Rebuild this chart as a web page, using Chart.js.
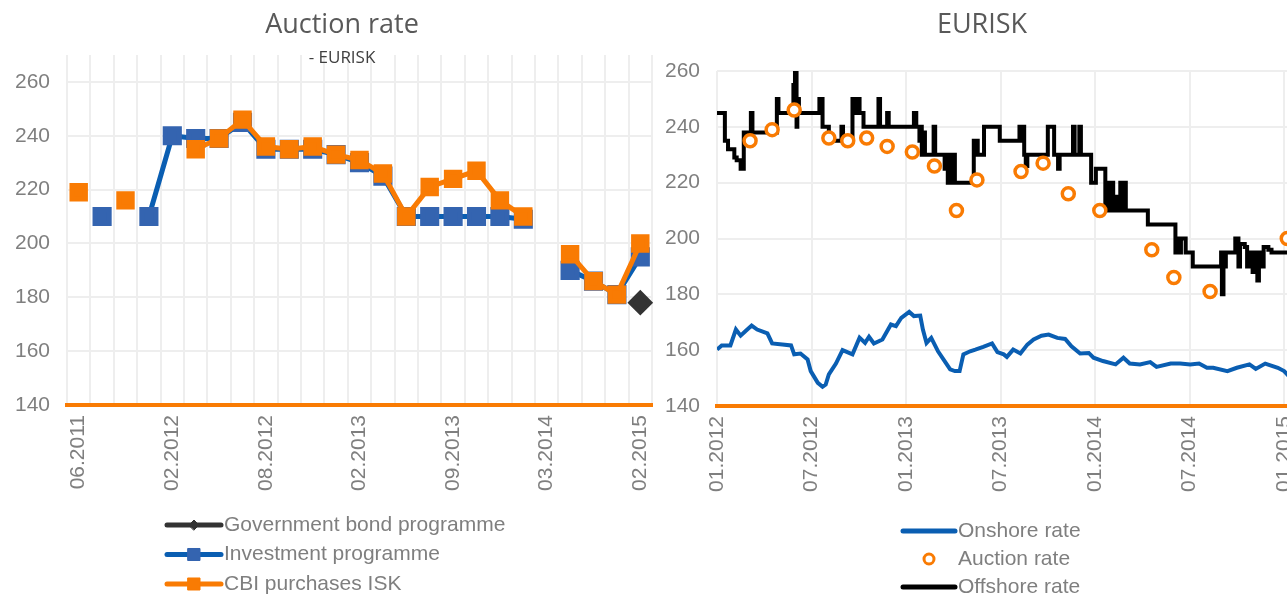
<!DOCTYPE html>
<html>
<head>
<meta charset="utf-8">
<script src="https://cdn.jsdelivr.net/npm/chart.js@4.4.1/dist/chart.umd.min.js"></script>
<style>
    html, body { margin: 0; padding: 0; background: #fff; overflow: hidden; width: 1287px; height: 594px; }
    #left { position: absolute; left: 0; top: 0; width: 660px; height: 594px; }
    #right { position: absolute; left: 655px; top: 0; width: 649px; height: 594px; }
</style>
</head>
<body>
<div id="left"><canvas id="auctionChart"></canvas></div>
<div id="right"><canvas id="eurChart"></canvas></div>
<script>
// ========== DATA ==========
// Left panel: one category per auction
const auctionDates = [
    '06.2011', '09.2011', '11.2011', '12.2011', '02.2012', '03.2012', '04.2012', '06.2012',
    '08.2012', '09.2012', '10.2012', '11.2012', '02.2013', '03.2013', '05.2013', '06.2013',
    '09.2013', '10.2013', '11.2013', '01.2014', '03.2014', '04.2014', '06.2014', '09.2014', '02.2015'
];
const govBond = [null, null, null, null, null, null, null, null, null, null, null, null,
    null, null, null, null, null, null, null, null, null, null, null, null, 178];
const investment = [null, 210, null, 210, 240, 239, 239, 245, 235, 235, 235, 233,
    230, 225, 210, 210, 210, 210, 210, 209, null, 190, 186, 181, 195];
const cbiPurchases = [219, null, 216, null, null, 235, 239, 246, 236, 235, 236, 233,
    231, 226, 210, 221, 224, 227, 216, 210, null, 196, 186, 181, 200];
const leftTicks = [140, 160, 180, 200, 220, 240, 260];

// Right panel: x = months since 01.2012
const onshoreMonths = [0, 0.3, 0.85, 1.2, 1.5, 1.8, 2.2, 2.55, 3.2, 3.5, 4.15, 4.7, 4.9, 5.3, 5.75, 5.95,
    6.4, 6.7, 6.9, 7.1, 7.55, 7.97, 8.6, 9.05, 9.4, 9.65, 9.96, 10.5, 11.04, 11.36, 11.7, 12.2,
    12.5, 12.9, 13.07, 13.3, 13.6, 14.03, 14.46, 14.8, 15.1, 15.4, 15.64, 16.07, 16.4, 16.9, 17.46,
    17.8, 18.2, 18.4, 18.8, 19.26, 19.7, 20.1, 20.6, 21.05, 21.6, 22.1, 22.5, 23.05, 23.6, 23.9,
    24.5, 25.3, 25.8, 26.2, 26.85, 27.5, 27.9, 28.8, 29.4, 30.04, 30.6, 31.1, 31.5, 32.4, 33,
    33.8, 34.2, 34.8, 35.6, 36, 36.3];
const onshoreRate = [160.2, 161.7, 161.7, 167.4, 165.2, 166.8, 168.8, 167.4, 166, 162.4, 162, 161.7, 158.5, 158.8, 156.7, 152.5,
    148.3, 146.9, 147.7, 151.3, 155.2, 160, 158.5, 164.5, 162.6, 164.8, 162.4, 163.8, 169.2, 168.6, 171.6, 173.7,
    172.2, 172.4, 167.4, 162.6, 164.4, 159.6, 156, 153.1, 152.5, 152.5, 158.5, 159.6, 160.2, 161.2, 162.4,
    159.3, 158.5, 157.6, 160.2, 158.8, 162, 163.8, 165.2, 165.6, 164.4, 164, 161.4, 158.8, 159, 157.3,
    156.1, 154.9, 157.3, 155.2, 154.9, 155.7, 154, 155.2, 155.2, 154.9, 155.2, 153.7, 153.7, 152.5, 153.7,
    154.9, 153.3, 155.2, 153.7, 152.5, 150.7];

const auctionMonths = [2.1, 3.5, 4.9, 7.1, 8.3, 9.5, 10.8, 12.4, 13.8, 15.2, 16.5, 19.3, 20.7, 22.3, 24.3, 27.6, 29.0, 31.3, 36.2];
const auctionRate = [235, 239, 246, 236, 235, 236, 233, 231, 226, 210, 221, 224, 227, 216, 210, 196, 186, 181, 200];

// offshore rate: each point is the month where the quote changed and the new level
const offshoreMonths = [0, 0.5, 0.7, 1.1, 1.25, 1.5, 1.7, 2.15, 2.25, 3.8, 3.9, 4.85, 4.95, 5.05, 5.1, 5.2,
    6.5, 6.7, 7.1, 7.9, 8.0, 8.6, 8.7, 8.85, 9.05, 9.3, 10.25, 10.35, 10.8, 10.9, 12.5, 12.65,
    12.85, 12.9, 13.0, 13.1, 13.2, 13.75, 13.85, 14.45, 14.55, 14.65, 14.7, 14.8, 14.85, 14.95, 15.0, 15.1,
    16.3, 16.55, 16.95, 17.95, 19.2, 19.3, 19.4, 19.5, 19.6, 19.7, 21.0, 21.4, 21.65, 21.75,
    22.6, 22.7, 23.0, 23.1, 23.75, 24.05, 24.65, 24.8, 24.9, 25.05, 25.15, 25.3, 25.45, 25.6, 25.75, 25.85, 25.95,
    27.35, 29.1, 29.2, 29.3, 29.45, 29.75, 30.2, 32.0, 32.05, 32.15, 32.3, 32.9, 33.1, 33.2, 33.5,
    33.65, 33.8, 34.0, 34.05, 34.3, 34.4, 34.55, 34.7, 35.0, 35.2, 36.5];
const offshoreRate = [245, 235, 232, 229, 228, 225, 238, 245, 238, 250, 245, 255, 260, 240, 250, 245,
    250, 240, 235, 240, 235, 250, 245, 250, 245, 240, 250, 240, 245, 240, 245, 240,
    235, 240, 230, 238, 230, 240, 230, 225, 230, 220, 230, 220, 230, 220, 230, 220,
    235, 230, 240, 235, 240, 235, 240, 230, 226, 230, 240, 230, 225, 230,
    240, 230, 240, 230, 220, 225, 210, 220, 210, 220, 210, 215, 210, 220, 210, 220, 210,
    205, 195, 200, 195, 200, 195, 190, 195, 180, 190, 195, 200, 190, 198, 197,
    190, 195, 188, 195, 185, 195, 190, 197, 196, 195, 195];
const rightTicks = [0, 6, 12, 18, 24, 30, 36];

// ========== STYLE ==========
const FONT = '"Liberation Sans", Arial, sans-serif';
const TITLE_FONT = '"Open Sans", sans-serif';
const TICK_GREY = '#7f7f7f';
const GRID = '#eeeeee';
const ORANGE = '#f97b03';
const BLUE_LINE = '#0a5eb2';
const BLUE_MARK = '#3464b0';
const DARK = '#333333';

const xy = (xs, ys) => xs.map((x, i) => ({ x, y: ys[i] }));
const monthLabel = (m) => {
    const year = 2012 + Math.floor(m / 12);
    const mon = (m % 12) + 1;
    return (mon < 10 ? '0' : '') + mon + '.' + year;
};

// keep the plot edges where the layout padding puts them (no extra room for rotated labels)
const fixXAxis = (s) => {
    s.height = 95;
    s.paddingLeft = 0;
    s.paddingRight = 0;
};

// titles + stacked legend drawn on the canvas
function overlay(cfg) {
    return {
        id: 'overlay',
        afterDraw(chart) {
            const ctx = chart.ctx;
            ctx.save();
            ctx.textAlign = 'center';
            ctx.textBaseline = 'middle';
            ctx.fillStyle = '#595959';
            ctx.font = `27px ${TITLE_FONT}`;
            ctx.fillText(cfg.title, cfg.titleX, 25);
            if (cfg.subtitle) {
                ctx.fillStyle = '#404040';
                ctx.font = `17px ${TITLE_FONT}`;
                ctx.fillText(cfg.subtitle, cfg.titleX, 58);
            }
            cfg.legend.forEach((item, i) => {
                const y = cfg.legendY + i * cfg.legendGap;
                if (item.line) {
                    ctx.strokeStyle = item.line;
                    ctx.lineWidth = 5;
                    ctx.lineCap = 'round';
                    ctx.beginPath();
                    ctx.moveTo(cfg.legendX0, y);
                    ctx.lineTo(cfg.legendX1, y);
                    ctx.stroke();
                }
                if (item.point) {
                    ctx.fillStyle = item.fill;
                    ctx.strokeStyle = item.stroke;
                    ctx.lineWidth = item.borderWidth || 1;
                    Chart.helpers.drawPoint(ctx, {
                        pointStyle: item.point, radius: item.radius, borderWidth: item.borderWidth || 1, rotation: 0
                    }, (cfg.legendX0 + cfg.legendX1) / 2, y);
                }
                ctx.fillStyle = TICK_GREY;
                ctx.font = `21px ${FONT}`;
                ctx.textAlign = 'left';
                ctx.fillText(item.text, cfg.legendX1 + 3, y);
            });
            ctx.restore();
        }
    };
}

const tickFont = { family: FONT, size: 21 };

// ========== LEFT: AUCTION RATE ==========
new Chart(document.getElementById('auctionChart'), {
    type: 'line',
    data: {
        labels: auctionDates,
        datasets: [
            {
                label: 'CBI purchases ISK', data: cbiPurchases, order: 1,
                borderColor: ORANGE, backgroundColor: ORANGE, borderWidth: 5,
                pointStyle: 'rect', pointRadius: 9.5, pointBorderColor: ORANGE,
            },
            {
                label: 'Investment programme', data: investment, order: 2,
                borderColor: BLUE_LINE, backgroundColor: BLUE_MARK, borderWidth: 5,
                pointStyle: 'rect', pointRadius: 10, pointBorderColor: BLUE_MARK,
            },
            {
                label: 'Government bond programme', data: govBond, order: 3,
                borderColor: DARK, backgroundColor: DARK, borderWidth: 4,
                pointStyle: 'rectRot', pointRadius: 10, pointBorderColor: DARK,
            },
        ],
    },
    options: {
        responsive: true,
        maintainAspectRatio: false,
        animation: false,
        layout: { autoPadding: false, padding: { top: 55, left: 0, right: 8, bottom: 94 } },
        plugins: { legend: { display: false }, tooltip: { enabled: false } },
        scales: {
            x: {
                offset: true,
                grid: { offset: true, color: GRID, lineWidth: 2, drawTicks: false },
                border: { color: ORANGE, width: 4 },
                ticks: {
                    autoSkip: false, maxRotation: 90, minRotation: 90, padding: 10,
                    color: TICK_GREY, font: tickFont,
                    callback: function(value, index) {
                        return index % 4 === 0 ? this.getLabelForValue(value) : '';
                    },
                },
                afterFit: fixXAxis,
            },
            y: {
                min: 140, max: 270,
                grid: { color: GRID, lineWidth: 2, drawTicks: false },
                border: { display: false },
                ticks: { padding: 17, color: TICK_GREY, font: tickFont },
                afterBuildTicks: (s) => { s.ticks = leftTicks.map(v => ({ value: v })); },
                afterFit: (s) => { s.width = 67; },
            },
        },
    },
    plugins: [overlay({
        title: 'Auction rate', subtitle: '- EURISK', titleX: 342,
        legendX0: 167, legendX1: 221, legendY: 525, legendGap: 29.5,
        legend: [
            { text: 'Government bond programme', line: DARK, point: 'rectRot', radius: 5, fill: DARK, stroke: DARK },
            { text: 'Investment programme', line: BLUE_LINE, point: 'rect', radius: 8.5, fill: BLUE_MARK, stroke: BLUE_MARK },
            { text: 'CBI purchases ISK', line: ORANGE, point: 'rect', radius: 8.5, fill: ORANGE, stroke: ORANGE },
        ],
    })],
});

// ========== RIGHT: EURISK ==========
new Chart(document.getElementById('eurChart'), {
    type: 'line',
    data: {
        datasets: [
            {
                label: 'Auction rate', data: xy(auctionMonths, auctionRate), order: 1,
                showLine: false, pointStyle: 'circle', pointRadius: 6, pointBorderWidth: 3.5,
                pointBorderColor: ORANGE, pointBackgroundColor: '#ffffff',
            },
            {
                label: 'Offshore rate', data: xy(offshoreMonths, offshoreRate), order: 2,
                stepped: true, borderColor: '#000000', borderWidth: 4, pointRadius: 0,
            },
            {
                label: 'Onshore rate', data: xy(onshoreMonths, onshoreRate), order: 3,
                borderColor: BLUE_LINE, borderWidth: 4, pointRadius: 0,
            },
        ],
    },
    options: {
        responsive: true,
        maintainAspectRatio: false,
        animation: false,
        layout: { autoPadding: false, padding: { top: 71, left: 0, right: 12, bottom: 93 } },
        plugins: { legend: { display: false }, tooltip: { enabled: false } },
        scales: {
            x: {
                type: 'linear', min: 0, max: 36.5,
                grid: { color: GRID, lineWidth: 2, drawTicks: false },
                border: { color: ORANGE, width: 4 },
                ticks: {
                    autoSkip: false, maxRotation: 90, minRotation: 90, padding: 10,
                    color: TICK_GREY, font: tickFont,
                    callback: (v) => monthLabel(v),
                },
                afterBuildTicks: (s) => { s.ticks = rightTicks.map(v => ({ value: v })); },
                afterFit: fixXAxis,
            },
            y: {
                min: 140, max: 260,
                grid: { color: GRID, lineWidth: 2, drawTicks: false },
                border: { display: false },
                ticks: { stepSize: 20, padding: 17, color: TICK_GREY, font: tickFont },
                afterFit: (s) => { s.width = 62; },
            },
        },
    },
    plugins: [overlay({
        title: 'EURISK', titleX: 327,
        legendX0: 248, legendX1: 300, legendY: 531, legendGap: 28,
        legend: [
            { text: 'Onshore rate', line: BLUE_LINE },
            { text: 'Auction rate', point: 'circle', radius: 5, borderWidth: 3, fill: '#ffffff', stroke: ORANGE },
            { text: 'Offshore rate', line: '#000000' },
        ],
    })],
});
</script>
</body>
</html>
